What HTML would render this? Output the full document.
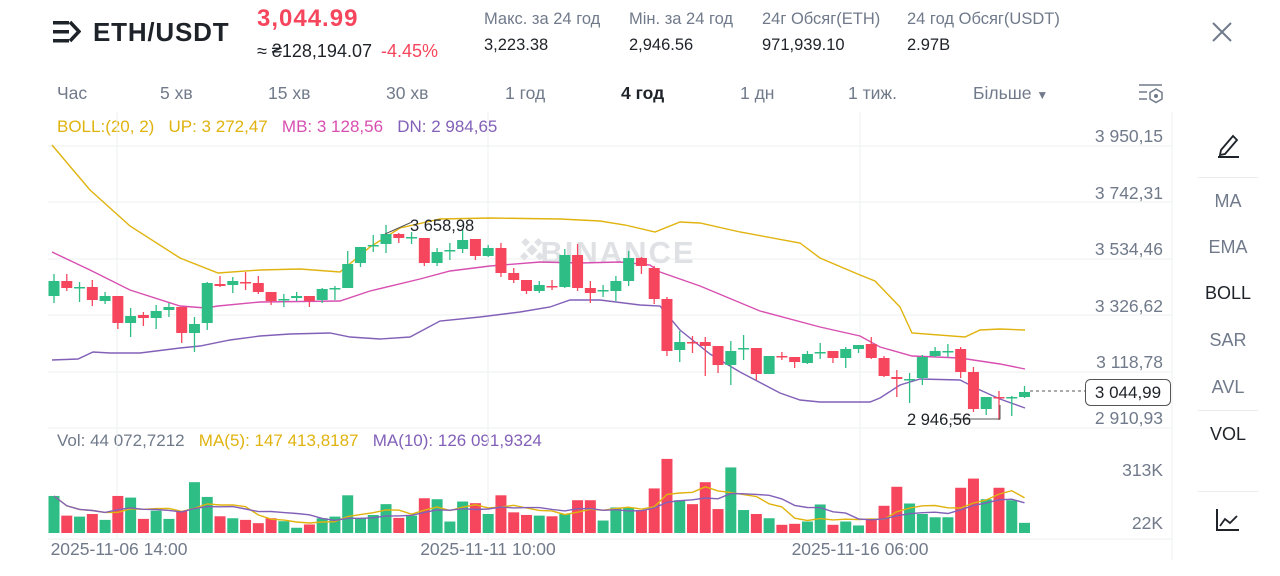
<!DOCTYPE html>
<html><head><meta charset="utf-8"><style>
*{margin:0;padding:0;box-sizing:border-box}
body{width:1280px;height:576px;background:#fff;font-family:"Liberation Sans",sans-serif;position:relative;overflow:hidden;color:#1e2329}
.a{position:absolute;white-space:nowrap}
.g{color:#707a8a}
</style></head><body>
<svg class="a" style="left:53px;top:19px" width="28" height="26"><rect x="0" y="2" width="16" height="3.5" fill="#1e2329"/><rect x="0" y="11" width="16" height="3.5" fill="#1e2329"/><rect x="0" y="20" width="16" height="3.5" fill="#1e2329"/><path d="M17 3 L26 12.5 L17 22" stroke="#1e2329" stroke-width="3.5" fill="none"/></svg>
<div class="a" style="left:93px;top:17px;font-size:26px;font-weight:bold;letter-spacing:0.8px">ETH/USDT</div>
<div class="a" style="left:257px;top:5px;font-size:24px;font-weight:bold;color:#f6465d;letter-spacing:1px">3,044.99</div>
<div class="a" style="left:257px;top:41px;font-size:18px">≈ ₴128,194.07 <span style="color:#f6465d;margin-left:4px">-4.45%</span></div>
<div class="a g" style="left:484px;top:10px;font-size:16.5px">Макс. за 24 год</div>
<div class="a" style="left:484px;top:36px;font-size:16.5px">3,223.38</div>
<div class="a g" style="left:629px;top:10px;font-size:16.5px">Мін. за 24 год</div>
<div class="a" style="left:629px;top:36px;font-size:16.5px">2,946.56</div>
<div class="a g" style="left:762px;top:10px;font-size:16.5px">24г Обсяг(ETH)</div>
<div class="a" style="left:762px;top:36px;font-size:16.5px">971,939.10</div>
<div class="a g" style="left:907px;top:10px;font-size:16.5px">24 год Обсяг(USDT)</div>
<div class="a" style="left:907px;top:36px;font-size:16.5px">2.97B</div>
<svg class="a" style="left:1211px;top:21px" width="22" height="22"><path d="M2 2L20 20M20 2L2 20" stroke="#707a8a" stroke-width="2"/></svg>
<div class="a g" style="top:83px;left:57px;font-size:17.5px">Час</div>
<div class="a g" style="top:83px;left:160px;font-size:17.5px">5 хв</div>
<div class="a g" style="top:83px;left:268px;font-size:17.5px">15 хв</div>
<div class="a g" style="top:83px;left:386px;font-size:17.5px">30 хв</div>
<div class="a g" style="top:83px;left:505px;font-size:17.5px">1 год</div>
<div class="a" style="top:83px;left:621px;font-size:17.5px;font-weight:bold">4 год</div>
<div class="a g" style="top:83px;left:740px;font-size:17.5px">1 дн</div>
<div class="a g" style="top:83px;left:848px;font-size:17.5px">1 тиж.</div>
<div class="a g" style="top:83px;left:973px;font-size:17.5px">Більше <span style="font-size:12px">▼</span></div>
<svg class="a" style="left:1138px;top:82px" width="26" height="22"><path d="M1 3H24M1 10H9M1 17H9" stroke="#707a8a" stroke-width="1.5"/><polygon points="18,7 24,10.5 24,17 18,20.5 12,17 12,10.5" fill="none" stroke="#707a8a" stroke-width="1.5"/><circle cx="18" cy="14" r="2" fill="#707a8a"/></svg>
<div class="a" style="top:117px;left:57px;font-size:17px;color:#e0b30f">BOLL:(20, 2)&nbsp;&nbsp; UP: 3 272,47&nbsp;&nbsp; <span style="color:#d74fb0">MB: 3 128,56</span>&nbsp;&nbsp; <span style="color:#8260b8">DN: 2 984,65</span></div>
<div class="a" style="top:431px;left:57px;font-size:17px;color:#707a8a">Vol: 44 072,7212&nbsp;&nbsp; <span style="color:#e0b30f">MA(5): 147 413,8187</span>&nbsp;&nbsp; <span style="color:#8260b8">MA(10): 126 091,9324</span></div>
<svg id="ch" class="a" style="left:0;top:0" width="1280" height="576"></svg>
<svg class="a" style="left:1215px;top:131px" width="28" height="28"><path d="M6 19L18 5L22 9L10 23L5 24Z" fill="none" stroke="#1e2329" stroke-width="1.8"/><path d="M3 26H24" stroke="#1e2329" stroke-width="2"/></svg>
<div class="a g" style="left:1201px;top:191px;width:54px;text-align:center;font-size:18px">MA</div>
<div class="a g" style="left:1201px;top:237px;width:54px;text-align:center;font-size:18px">EMA</div>
<div class="a" style="left:1201px;top:283px;width:54px;text-align:center;font-size:18px">BOLL</div>
<div class="a g" style="left:1201px;top:330px;width:54px;text-align:center;font-size:18px">SAR</div>
<div class="a g" style="left:1201px;top:377px;width:54px;text-align:center;font-size:18px">AVL</div>
<div class="a" style="left:1201px;top:424px;width:54px;text-align:center;font-size:18px">VOL</div>
<div class="a" style="left:1198px;top:177px;width:60px;height:1px;background:#eaecef"></div>
<div class="a" style="left:1198px;top:410px;width:60px;height:1px;background:#eaecef"></div>
<div class="a" style="left:1198px;top:491px;width:60px;height:1px;background:#eaecef"></div>
<svg class="a" style="left:1215px;top:507px" width="26" height="26"><path d="M2 2V23H24" stroke="#1e2329" stroke-width="2" fill="none"/><path d="M5 19L10 12L15 16L22 9" stroke="#1e2329" stroke-width="1.8" fill="none"/></svg>
<script>
var C=[[281,296,274,303,1],[281,288,274,291,0],[287,288,282,302,1],[287,300,280,306,0],[296,301,292,304,1],[296,323,296,329,0],[316,323,308,337,1],[315,318,312,326,0],[311,318,305,329,1],[307,310,303,317,1],[307,333,307,343,0],[324,333,317,352,1],[283,323,282,330,1],[284,286,276,287,0],[281,285,277,293,1],[282,283,272,290,0],[283,292,276,294,0],[292,301,292,305,0],[299,300,294,307,1],[296,298,292,301,1],[296,301,296,307,0],[289,300,288,303,1],[288,289,286,300,1],[264,288,251,288,1],[247,263,247,267,1],[245,246,235,252,1],[234,244,225,253,1],[234,238,233,243,0],[237,238,232,244,1],[238,263,238,266,0],[252,263,248,266,1],[250,251,243,260,1],[240,249,230,253,1],[239,256,239,260,0],[248,256,245,257,1],[248,273,243,277,0],[273,280,268,283,0],[280,291,280,294,0],[285,291,281,293,1],[286,287,280,290,0],[255,287,249,288,1],[255,288,244,291,0],[288,293,281,303,0],[290,291,285,297,1],[281,291,276,301,1],[258,281,251,286,1],[258,266,257,274,0],[268,299,266,304,0],[299,351,297,356,0],[342,350,331,362,1],[342,343,336,353,0],[342,346,337,376,0],[346,365,346,373,0],[351,365,341,385,1],[348,349,335,360,1],[348,374,348,380,0],[356,374,356,374,1],[356,357,352,360,0],[357,362,357,368,0],[354,363,351,364,1],[352,353,343,359,1],[351,358,351,363,0],[349,358,347,368,1],[345,349,345,353,1],[344,358,337,359,0],[358,376,356,377,0],[377,379,370,397,0],[379,380,373,403,1],[357,378,355,385,1],[351,356,347,357,1],[351,352,344,357,1],[349,372,347,378,0],[372,409,367,412,0],[397,409,397,415,1],[397,398,391,420,0],[397,398,396,416,1],[392,397,386,398,1]];
var V=[200,260,263,255,273,200,205,270,245,270,245,158,203,262,268,273,283,268,277,297,287,268,263,198,268,258,225,267,260,207,210,278,217,222,255,198,250,258,260,262,255,213,213,275,235,235,243,177,87,213,225,158,240,113,243,255,268,288,285,278,226,288,278,290,270,230,172,223,255,265,265,175,147,210,175,213,282];
var up=[[52,145],[90,190],[130,226],[180,258],[218,273],[260,270],[300,269],[340,272],[370,247],[400,228],[440,219],[490,218],[560,219],[600,221],[625,225],[655,232],[680,222],[700,223],[740,232],[800,243],[820,258],[860,275],[875,281],[900,307],[912,333],[965,337],[980,330],[1000,329],[1025,330]];
var mb=[[52,252],[90,270],[130,290],[180,306],[206,308],[218,306],[260,302],[340,301],[370,291],[420,279],[450,271],[490,266],[540,262],[580,263],[620,262],[650,265],[660,272],[700,286],[760,311],[820,327],[860,336],[880,347],[912,356],[960,358],[1000,364],[1025,369]];
var dn=[[52,360],[78,359],[93,352],[110,353],[140,353],[180,348],[200,346],[230,340],[260,336],[290,334],[330,333],[350,337],[380,339],[410,337],[440,321],[480,317],[520,312],[550,307],[570,300],[600,300],[640,305],[660,306],[680,330],[710,354],[740,372],[780,393],[800,400],[820,402],[870,402],[880,398],[900,385],[920,379],[960,380],[980,390],[1000,399],[1025,408]];
var s='',G='#2ebd85',R='#f6465d',dx=12.77,F=' font-family="Liberation Sans"';
[146,202,259,315,372,428,539].forEach(function(y){s+='<line x1="48" x2="1172" y1="'+y+'" y2="'+y+'" stroke="#eef0f2"/>';});
[117,488,860].forEach(function(x){s+='<line x1="'+x+'" x2="'+x+'" y1="112" y2="539" stroke="#eef0f2"/>';});
s+='<line x1="1172" x2="1172" y1="112" y2="560" stroke="#eef0f2"/>';
s+='<text x="618" y="263" font-size="31" font-weight="bold" fill="#dfe1e4" text-anchor="middle"'+F+' letter-spacing="2">BINANCE</text>';
s+='<g transform="translate(532,250) rotate(45)" fill="#dfe1e4"><rect x="-4" y="-4" width="8" height="8"/><rect x="-13" y="-4" width="6" height="6"/><rect x="7" y="-4" width="6" height="6"/><rect x="-4" y="-13" width="6" height="6"/><rect x="-4" y="7" width="6" height="6"/></g>';
function pl(a,c){return '<polyline fill="none" stroke="'+c+'" stroke-width="1.4" points="'+a.map(function(p){return p.join(',')}).join(' ')+'"/>';}
s+=pl(up,'#e0b30f')+pl(mb,'#d74fb0')+pl(dn,'#8260b8');
var vt=[];
C.forEach(function(c,i){var x=54+i*dx,col=c[4]?G:R;
s+='<line x1="'+x+'" x2="'+x+'" y1="'+c[2]+'" y2="'+c[3]+'" stroke="'+col+'" stroke-width="1.3"/>';
var h=Math.max(c[1]-c[0],1.5);s+='<rect x="'+(x-5.5)+'" y="'+c[0]+'" width="11" height="'+h+'" fill="'+col+'"/>';
var t=533-(313-V[i])/3.05;vt.push(t);s+='<rect x="'+(x-5.5)+'" y="'+t+'" width="11" height="'+(533-t)+'" fill="'+col+'"/>';});
function ma(n){var p=[];for(var i=0;i<vt.length;i++){var k=Math.max(0,i-n+1),sm=0;for(var j=k;j<=i;j++)sm+=533-vt[j];p.push([54+i*dx,(533-sm/(i-k+1)).toFixed(1)]);}return p;}
s+=pl(ma(5),'#e0b30f')+pl(ma(10),'#8260b8');
s+='<polyline points="385,234 412,222 412,222" fill="none" stroke="#555"/><text x="410" y="231" font-size="16.5" fill="#1e2329"'+F+'>3 658,98</text>';
s+='<polyline points="950,419 1000,419 1000,405" fill="none" stroke="#555"/><text x="907" y="425" font-size="16.5" fill="#1e2329"'+F+'>2 946,56</text>';
s+='<line x1="1030" x2="1085" y1="391" y2="391" stroke="#555" stroke-dasharray="3,3"/><rect x="1085.5" y="379.5" width="85" height="26" rx="5" fill="#fff" stroke="#555"/><text x="1128" y="398" font-size="17" text-anchor="middle" fill="#1e2329"'+F+'>3 044,99</text>';
[['3 950,15',142],['3 742,31',199],['3 534,46',255],['3 326,62',312],['3 118,78',368],['2 910,93',424],['313K',476],['22K',529]].forEach(function(l){s+='<text x="1163" y="'+l[1]+'" font-size="17.5" text-anchor="end" fill="#707a8a"'+F+'>'+l[0]+'</text>';});
[['2025-11-06 14:00',119],['2025-11-11 10:00',488],['2025-11-16 06:00',860]].forEach(function(l){s+='<text x="'+l[1]+'" y="555" font-size="17.5" text-anchor="middle" fill="#707a8a"'+F+'>'+l[0]+'</text>';});
document.getElementById('ch').innerHTML=s;
</script>
</body></html>
